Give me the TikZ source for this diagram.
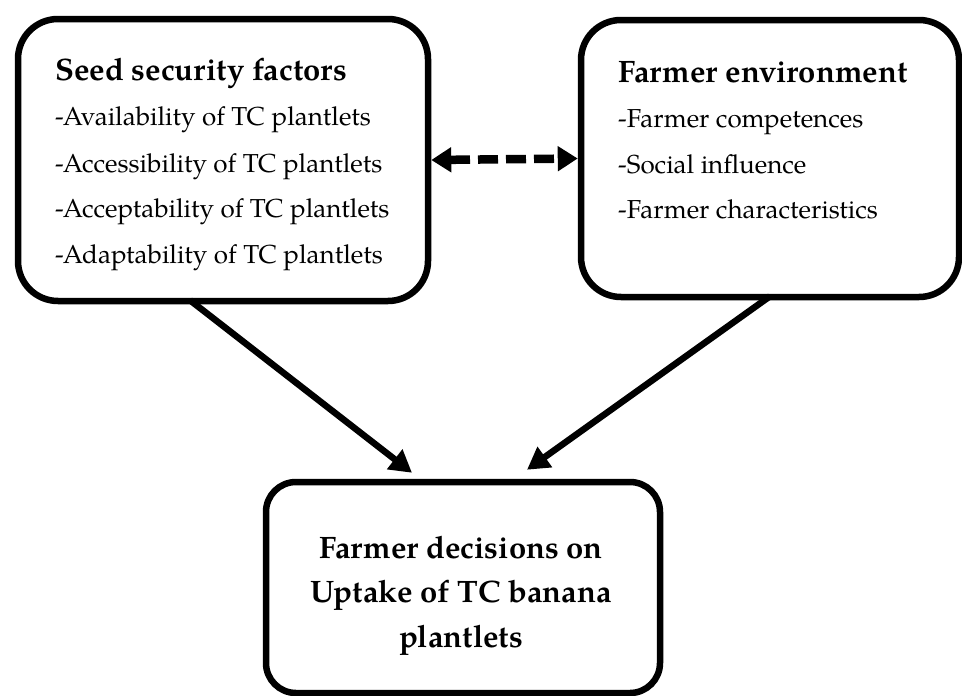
\documentclass[tikz,border=0pt]{standalone}
\usepackage{fontspec}
\setmainfont{TeX Gyre Pagella}
\usetikzlibrary{arrows.meta}
\begin{document}
\begin{tikzpicture}[x=1pt,y=-1pt,
  box/.style={draw=black, line width=6.5pt, rounded corners=40pt, inner sep=0pt},
  head/.style={anchor=base west, inner sep=0pt, font=\fontsize{31}{36}\selectfont\bfseries},
  item/.style={anchor=base west, inner sep=0pt, font=\fontsize{26}{30}\selectfont},
  bot/.style={anchor=base, inner sep=0pt, font=\fontsize{31}{36}\selectfont\bfseries},
  conn/.style={line width=6.5pt, -{Triangle[length=22pt,width=24pt]}},
  dconn/.style={line width=8.5pt, dash pattern=on 20pt off 8pt,
    {Triangle[length=20pt,width=24pt]}-{Triangle[length=20pt,width=24pt]}}]
\useasboundingbox (0,0) rectangle (962,696);
% boxes
\node[box, minimum width=410pt, minimum height=282pt] (lbox) at (223,160) {};
\node[box, minimum width=378pt, minimum height=277pt] (rbox) at (770,158.5) {};
\node[box, rounded corners=30pt, minimum width=394pt, minimum height=211pt] (bbox) at (463,587.5) {};
% left box text
\node[head] (lt) at (55,80) {Seed security factors};
\node[item] (l1) at (55,125) {-Availability of TC plantlets};
\node[item] (l2) at (55,172) {-Accessibility of TC plantlets};
\node[item] (l3) at (55,217) {-Acceptability of TC plantlets};
\node[item] (l4) at (55,263) {-Adaptability of TC plantlets};
% right box text
\node[head] (rt) at (618,82) {Farmer environment};
\node[item] (r1) at (618,127) {-Farmer competences};
\node[item] (r2) at (618,173) {-Social influence};
\node[item] (r3) at (618,218) {-Farmer characteristics};
% bottom box text
\node[bot] (b1) at (461,558) {Farmer decisions on};
\node[bot] (b2) at (461,602) {Uptake of TC banana};
\node[bot] (b3) at (461,647) {plantlets};
% connectors
\draw[dconn] (lbox.east) -- (rbox.west);
\draw[conn] ([xshift=-33pt,yshift=4pt]lbox.south) -- ([xshift=-51pt,yshift=6pt]bbox.north);
\draw[conn] ([yshift=4pt]rbox.south) -- ([xshift=64pt,yshift=9pt]bbox.north);
\end{tikzpicture}
\end{document}
